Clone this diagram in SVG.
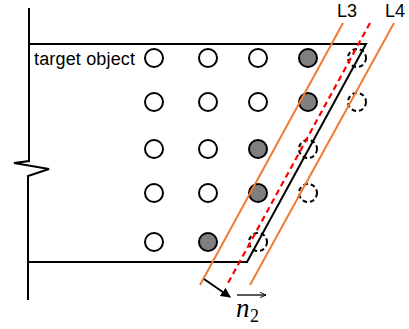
<svg xmlns="http://www.w3.org/2000/svg" width="409" height="329" viewBox="0 0 409 329">
<defs>
<style>
.ln{stroke:#000;stroke-width:2;fill:none}
.w{fill:#fff;stroke:#000;stroke-width:2}
.g{fill:#7f7f7f;stroke:#000;stroke-width:2}
.d{fill:none;stroke:#000;stroke-width:2;stroke-dasharray:4.5 3}
.or{stroke:#ED7D31;stroke-width:2}
.rd{stroke:#FF0000;stroke-width:2.2;stroke-dasharray:6 4}
.t{font-family:"Liberation Sans",Arial,sans-serif;font-size:18px;fill:#000}
</style>
<marker id="ah" viewBox="0 0 10 10" refX="9" refY="5" markerWidth="5" markerHeight="5" orient="auto" markerUnits="strokeWidth">
<path d="M0,0 L10,5 L0,10 z" fill="#000"/>
</marker>
<marker id="oa" viewBox="0 0 10 10" refX="9" refY="5" markerWidth="7" markerHeight="7" orient="auto" markerUnits="userSpaceOnUse">
<path d="M0,1 L9,5 L0,9" fill="none" stroke="#000" stroke-width="1.3"/>
</marker>
</defs>
<g id="target-object">
<polyline class="ln" points="29,8 29,161 14,163 49,169 28,176 28,300"/>
<polyline class="ln" points="29,44 366,44 247,262 29,262"/>
<text class="t" x="34" y="65" textLength="101">target object</text>
</g>
<g id="circles">
<circle class="w" cx="154" cy="58" r="9"/>
<circle class="w" cx="208" cy="58" r="9"/>
<circle class="w" cx="258" cy="58" r="9"/>
<circle class="g" cx="308" cy="58" r="9"/>
<circle class="d" cx="357" cy="58" r="9"/>
<circle class="w" cx="154" cy="102" r="9"/>
<circle class="w" cx="208" cy="102" r="9"/>
<circle class="w" cx="258" cy="102" r="9"/>
<circle class="g" cx="308" cy="102" r="9"/>
<circle class="d" cx="357" cy="102" r="9"/>
<circle class="w" cx="154" cy="149" r="9"/>
<circle class="w" cx="208" cy="149" r="9"/>
<circle class="g" cx="258" cy="149" r="9"/>
<circle class="d" cx="308" cy="149" r="9"/>
<circle class="w" cx="154" cy="193" r="9"/>
<circle class="w" cx="208" cy="193" r="9"/>
<circle class="g" cx="258" cy="193" r="9"/>
<circle class="d" cx="308" cy="193" r="9"/>
<circle class="w" cx="154" cy="242" r="9"/>
<circle class="g" cx="208" cy="242" r="9"/>
<circle class="d" cx="258" cy="242" r="9"/>
</g>
<g id="lines">
<line class="or" x1="343" y1="23" x2="200" y2="285"/>
<line class="or" x1="394" y1="23" x2="250" y2="285"/>
<line class="rd" x1="370" y1="23" x2="227" y2="285"/>
<line class="ln" x1="204" y1="279" x2="230" y2="297" marker-end="url(#ah)"/>
</g>
<g id="labels">
<text class="t" x="337" y="17">L3</text>
<text class="t" x="385" y="17">L4</text>
<line x1="237" y1="295" x2="266" y2="295" stroke="#000" stroke-width="1.3" marker-end="url(#oa)"/>
<text x="236" y="317" font-family="'Liberation Serif','DejaVu Serif',serif" font-style="italic" font-size="27" fill="#000">n</text>
<text x="250" y="322" font-family="'Liberation Serif','DejaVu Serif',serif" font-size="18" fill="#000">2</text>
</g>
</svg>
